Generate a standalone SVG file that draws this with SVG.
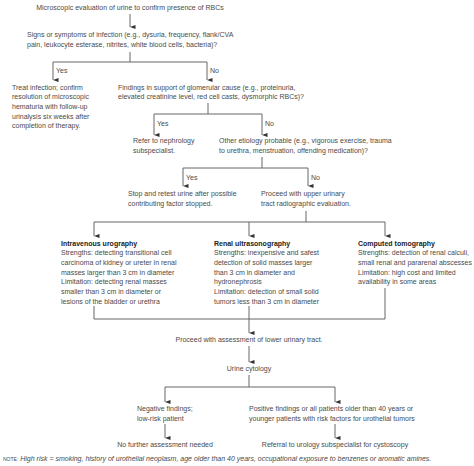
<svg xmlns="http://www.w3.org/2000/svg" width="474" height="466" viewBox="0 0 474 466">
<style>
text{font-family:"Liberation Sans",Arial,sans-serif;font-size:7px;fill:#4a4a4a}
.b{font-weight:bold;fill:#222}
.m{text-anchor:middle}
.c{stroke:#666;stroke-width:1;fill:none}
.n{font-size:5px}
.i{font-style:italic}
</style>
<defs>
<marker id="ah" markerUnits="userSpaceOnUse" markerWidth="5" markerHeight="6" viewBox="0 0 5 6" refX="2.5" refY="6" orient="auto-start-reverse">
<path d="M0.5,0.5 L4.5,0.5 L2.5,6 Z" fill="#333"/>
</marker>
</defs>
<rect width="474" height="466" fill="#fff"/>
<g id="connectors">
<path class="c" d="M130,14 V27" marker-end="url(#ah)"/>
<path class="c" d="M130,52 V62 H53 V80" marker-end="url(#ah)"/>
<path class="c" d="M130,62 H207 V80" marker-end="url(#ah)"/>
<path class="c" d="M208,103 V114 H154 V135" marker-end="url(#ah)"/>
<path class="c" d="M208,114 H262 V135" marker-end="url(#ah)"/>
<path class="c" d="M262,157 V168 H183 V186" marker-end="url(#ah)"/>
<path class="c" d="M262,168 H308 V186" marker-end="url(#ah)"/>
<path class="c" d="M306,211 V222 H94 V236" marker-end="url(#ah)"/>
<path class="c" d="M306,222 H385 V236" marker-end="url(#ah)"/>
<path class="c" d="M249,222 V236" marker-end="url(#ah)"/>
<path class="c" d="M94,306 V319 H385 V288"/>
<path class="c" d="M249,306 V319"/>
<path class="c" d="M249,319 V333" marker-end="url(#ah)"/>
<path class="c" d="M249,346 V362" marker-end="url(#ah)"/>
<path class="c" d="M249,375 V387 H165 V402" marker-end="url(#ah)"/>
<path class="c" d="M249,387 H335 V402" marker-end="url(#ah)"/>
<path class="c" d="M165,424 V438" marker-end="url(#ah)"/>
<path class="c" d="M335,424 V438" marker-end="url(#ah)"/>
<text x="56" y="73">Yes</text>
<text x="210" y="73">No</text>
<text x="157" y="126">Yes</text>
<text x="265" y="126">No</text>
<text x="186" y="179.5">Yes</text>
<text x="311" y="179.5">No</text>
</g>
<g id="n1"><text class="m" x="130" y="10">Microscopic evaluation of urine to confirm presence of RBCs</text></g>
<g id="n2">
<text x="27" y="36.5">Signs or symptoms of infection (e.g., dysuria, frequency, flank/CVA</text>
<text x="27" y="46.5">pain, leukocyte esterase, nitrites, white blood cells, bacteria)?</text>
</g>
<g id="n3">
<text x="12" y="89.5">Treat infection; confirm</text>
<text x="12" y="99.2">resolution of microscopic</text>
<text x="12" y="108.9">hematuria with follow-up</text>
<text x="12" y="118.6">urinalysis six weeks after</text>
<text x="12" y="128.3">completion of therapy.</text>
</g>
<g id="n4">
<text x="118" y="89.5">Findings in support of glomerular cause (e.g., proteinuria,</text>
<text x="118" y="99.2">elevated creatinine level, red cell casts, dysmorphic RBCs)?</text>
</g>
<g id="n5">
<text x="133" y="143">Refer to nephrology</text>
<text x="133" y="153">subspecialist.</text>
</g>
<g id="n6">
<text x="219" y="143">Other etiology probable (e.g., vigorous exercise, trauma</text>
<text x="219" y="153">to urethra, menstruation, offending medication)?</text>
</g>
<g id="n7">
<text x="128" y="196">Stop and retest urine after possible</text>
<text x="128" y="206">contributing factor stopped.</text>
</g>
<g id="n8">
<text x="261" y="196">Proceed with upper urinary</text>
<text x="261" y="206">tract radiographic evaluation.</text>
</g>
<g id="n9">
<text class="b" x="61" y="245.5">Intravenous urography</text>
<text x="61" y="255.3">Strengths: detecting transitional cell</text>
<text x="61" y="265">carcinoma of kidney or ureter in renal</text>
<text x="61" y="274.7">masses larger than 3 cm in diameter</text>
<text x="61" y="284.4">Limitation: detecting renal masses</text>
<text x="61" y="294.1">smaller than 3 cm in diameter or</text>
<text x="61" y="303.8">lesions of the bladder or urethra</text>
</g>
<g id="n10">
<text class="b" x="214" y="245.5">Renal ultrasonography</text>
<text x="214" y="255.3">Strengths: inexpensive and safest</text>
<text x="214" y="265">detection of solid masses larger</text>
<text x="214" y="274.7">than 3 cm in diameter and</text>
<text x="214" y="284.4">hydronephrosis</text>
<text x="214" y="294.1">Limitation: detection of small solid</text>
<text x="214" y="303.8">tumors less than 3 cm in diameter</text>
</g>
<g id="n11">
<text class="b" x="358" y="245.5">Computed tomography</text>
<text x="358" y="255.3">Strengths: detection of renal calculi,</text>
<text x="358" y="265">small renal and pararenal abscesses</text>
<text x="358" y="274.7">Limitation: high cost and limited</text>
<text x="358" y="284.4">availability in some areas</text>
</g>
<g id="n12"><text class="m" x="249" y="341.5">Proceed with assessment of lower urinary tract.</text></g>
<g id="n13"><text class="m" x="249" y="370.5">Urine cytology</text></g>
<g id="n14">
<text x="137" y="410.5">Negative findings;</text>
<text x="137" y="420.5">low-risk patient</text>
</g>
<g id="n15"><text class="m" x="165" y="446.5">No further assessment needed</text></g>
<g id="n16">
<text x="249" y="410.5">Positive findings or all patients older than 40 years or</text>
<text x="249" y="420.5">younger patients with risk factors for urothelial tumors</text>
</g>
<g id="n17"><text class="m" x="335" y="446.5">Referral to urology subspecialist for cystoscopy</text></g>
<g id="note"><text x="3" y="460.5"><tspan class="n">NOTE:</tspan> <tspan class="i">High risk = smoking, history of urothelial neoplasm, age older than 40 years, occupational exposure to benzenes or aromatic amines.</tspan></text></g>
</svg>
